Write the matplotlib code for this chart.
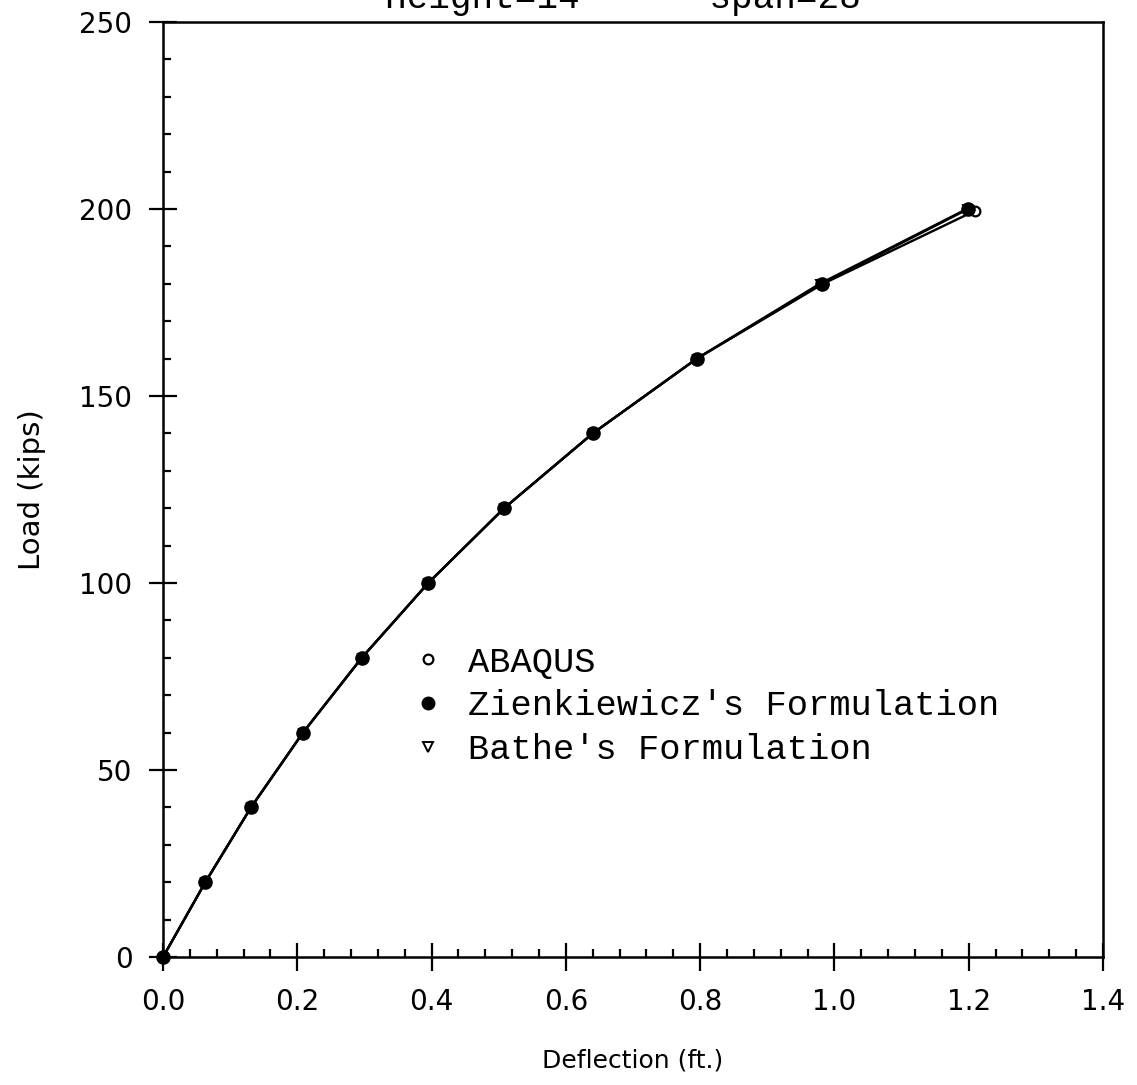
import matplotlib
matplotlib.use("Agg")
import matplotlib.pyplot as plt
from matplotlib.lines import Line2D
from matplotlib.ticker import MultipleLocator

load = [0, 20, 40, 60, 80, 100, 120, 140, 160, 180, 200]
zienk_defl = [0.0, 0.063, 0.131, 0.2085, 0.296, 0.395, 0.508, 0.640, 0.795, 0.981, 1.199]
bathe_defl = [0.0, 0.063, 0.131, 0.2085, 0.296, 0.395, 0.508, 0.640, 0.795, 0.978, 1.197]
abaqus_defl = [0.0, 0.063, 0.131, 0.2085, 0.296, 0.395, 0.508, 0.640, 0.795, 0.983, 1.209]
abaqus_load = [0, 20, 40, 60, 80, 100, 120, 140, 160, 180, 199.5]

xticks = [0.0, 0.2, 0.4, 0.6, 0.8, 1.0, 1.2, 1.4]
yticks = [0, 50, 100, 150, 200, 250]

fig = plt.figure(figsize=(11.37, 10.85), dpi=100)
ax = fig.add_axes([0.1434, 0.1180, 0.8267, 0.8617])

ax.plot(abaqus_defl, abaqus_load, color='black', lw=1.7, marker='o', ms=7,
        mfc='white', mec='black', mew=1.6, zorder=2)
ax.plot(bathe_defl, load, color='black', lw=1.7, marker='v', ms=5.5,
        mfc='white', mec='black', mew=1.4, zorder=3)
ax.plot(zienk_defl, load, color='black', lw=1.7, marker='o', ms=9.5,
        mfc='black', mec='black', zorder=4, clip_on=False)

ax.set_xlim(0, 1.4)
ax.set_ylim(0, 250)
ax.set_xticks(xticks)
ax.set_yticks(yticks)
ax.set_xticklabels([f"{v:.1f}" for v in xticks])
ax.set_yticklabels([str(v) for v in yticks])
ax.xaxis.set_minor_locator(MultipleLocator(0.04))
ax.yaxis.set_minor_locator(MultipleLocator(10))

ax.tick_params(which='major', direction='inout', length=20, width=1.6,
               labelsize=20, pad=12)
ax.tick_params(which='minor', direction='in', length=6, width=1.6)
ax.tick_params(top=False, right=False, which='both')
for s in ax.spines.values():
    s.set_linewidth(1.8)

ax.set_xlabel("Deflection (ft.)", fontsize=18, labelpad=24)
ax.set_ylabel("Load (kips)", fontsize=21, labelpad=24)

handles = [
    Line2D([], [], ls='none', marker='o', ms=7, mfc='white', mec='black', mew=1.6),
    Line2D([], [], ls='none', marker='o', ms=9, mfc='black', mec='black'),
    Line2D([], [], ls='none', marker='v', ms=7, mfc='white', mec='black', mew=1.4),
]
labels = ["ABAQUS", "Zienkiewicz's Formulation", "Bathe's Formulation"]
leg = ax.legend(handles, labels, loc='upper left', bbox_to_anchor=(0.255, 0.348),
                frameon=False, prop={'family': 'Liberation Mono', 'size': 25.5},
                handlelength=0.6, handletextpad=0.85, labelspacing=0.3,
                borderaxespad=0)

fig.text(0.557, 1 - 8 / 1085, "Height=14'     span=28'", ha='center',
         va='baseline', fontsize=26, family='Liberation Mono')

fig.savefig("out.png", dpi=100)
